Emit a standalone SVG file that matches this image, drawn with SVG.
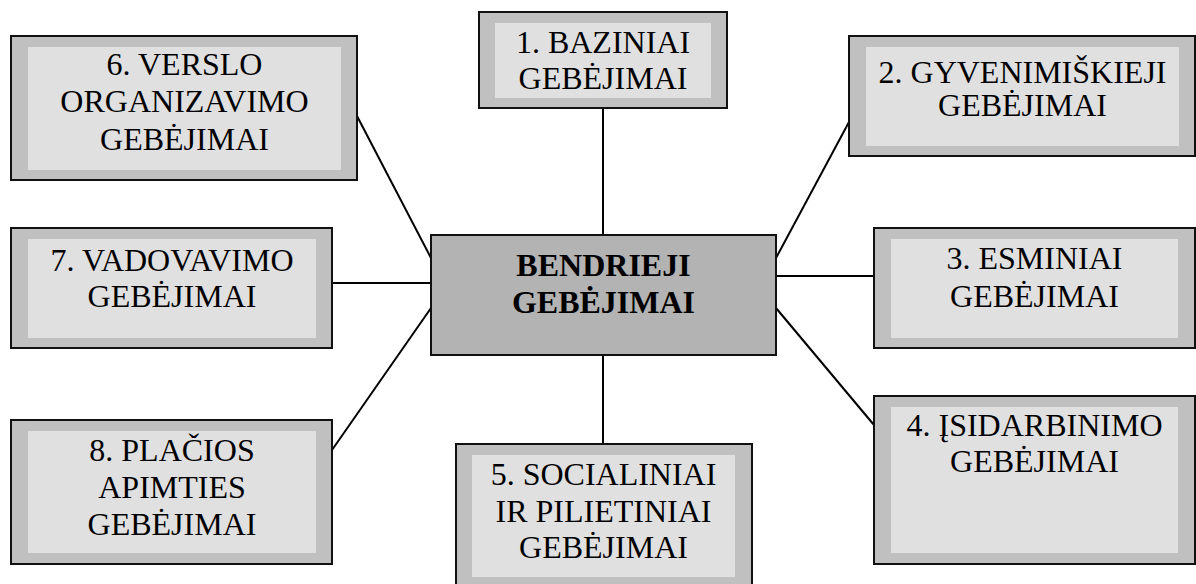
<svg xmlns="http://www.w3.org/2000/svg" width="1196" height="584" viewBox="0 0 1196 584">
<style>
.outer{fill:#c0c0c0;stroke:#111;stroke-width:2}
.inner{fill:#e0e0e0;stroke:none}
.center{fill:#b3b3b3;stroke:#111;stroke-width:2}
.t{font-family:"Liberation Serif","Times New Roman","DejaVu Serif",serif;font-size:32px;fill:#000;text-anchor:middle}
.b{font-weight:bold}
.c{stroke:#000;stroke-width:2;fill:none}
</style>
<rect width="1196" height="584" fill="#fff"/>
<g id="connectors">
<line class="c" x1="603" y1="108" x2="603" y2="235"/>
<line class="c" x1="603" y1="355" x2="603" y2="444"/>
<line class="c" x1="357" y1="116" x2="431" y2="258"/>
<line class="c" x1="332" y1="283" x2="431" y2="283"/>
<line class="c" x1="332" y1="450" x2="431" y2="308"/>
<line class="c" x1="849" y1="122" x2="776" y2="258"/>
<line class="c" x1="776" y1="276" x2="874" y2="276"/>
<line class="c" x1="776" y1="308" x2="874" y2="425"/>
</g>
<g id="center">
<rect class="center" x="431" y="235" width="345" height="120"/>
<text class="t b" x="603.5" y="276">BENDRIEJI</text>
<text class="t b" x="603.5" y="313">GEBĖJIMAI</text>
</g>
<g id="n1">
<rect class="outer" x="479" y="12" width="248" height="96"/>
<rect class="inner" x="495" y="23" width="216" height="75"/>
<text class="t" x="603" y="53">1. BAZINIAI</text>
<text class="t" x="603" y="89">GEBĖJIMAI</text>
</g>
<g id="n2">
<rect class="outer" x="849" y="36" width="346" height="120"/>
<rect class="inner" x="866" y="47" width="313" height="99"/>
<text class="t" x="1022.5" y="83">2. GYVENIMIŠKIEJI</text>
<text class="t" x="1022.5" y="116">GEBĖJIMAI</text>
</g>
<g id="n3">
<rect class="outer" x="874" y="228" width="321" height="120"/>
<rect class="inner" x="891" y="239" width="287" height="99"/>
<text class="t" x="1034.5" y="269">3. ESMINIAI</text>
<text class="t" x="1034.5" y="307">GEBĖJIMAI</text>
</g>
<g id="n4">
<rect class="outer" x="874" y="396" width="321" height="168"/>
<rect class="inner" x="891" y="407" width="287" height="146"/>
<text class="t" x="1034.5" y="436">4. ĮSIDARBINIMO</text>
<text class="t" x="1034.5" y="472">GEBĖJIMAI</text>
</g>
<g id="n5">
<rect class="outer" x="456" y="444" width="296" height="150"/>
<rect class="inner" x="472" y="455" width="263" height="122"/>
<text class="t" x="603.5" y="485">5. SOCIALINIAI</text>
<text class="t" x="603.5" y="522">IR PILIETINIAI</text>
<text class="t" x="603.5" y="558">GEBĖJIMAI</text>
</g>
<g id="n6">
<rect class="outer" x="11" y="36" width="346" height="144"/>
<rect class="inner" x="28" y="47" width="313" height="123"/>
<text class="t" x="184.5" y="75">6. VERSLO</text>
<text class="t" x="184.5" y="112">ORGANIZAVIMO</text>
<text class="t" x="184.5" y="150">GEBĖJIMAI</text>
</g>
<g id="n7">
<rect class="outer" x="11" y="228" width="321" height="120"/>
<rect class="inner" x="28" y="239" width="288" height="99"/>
<text class="t" x="172" y="271">7. VADOVAVIMO</text>
<text class="t" x="172" y="307">GEBĖJIMAI</text>
</g>
<g id="n8">
<rect class="outer" x="11" y="420" width="321" height="144"/>
<rect class="inner" x="28" y="431" width="288" height="122"/>
<text class="t" x="172" y="461">8. PLAČIOS</text>
<text class="t" x="172" y="498">APIMTIES</text>
<text class="t" x="172" y="535">GEBĖJIMAI</text>
</g>
</svg>
